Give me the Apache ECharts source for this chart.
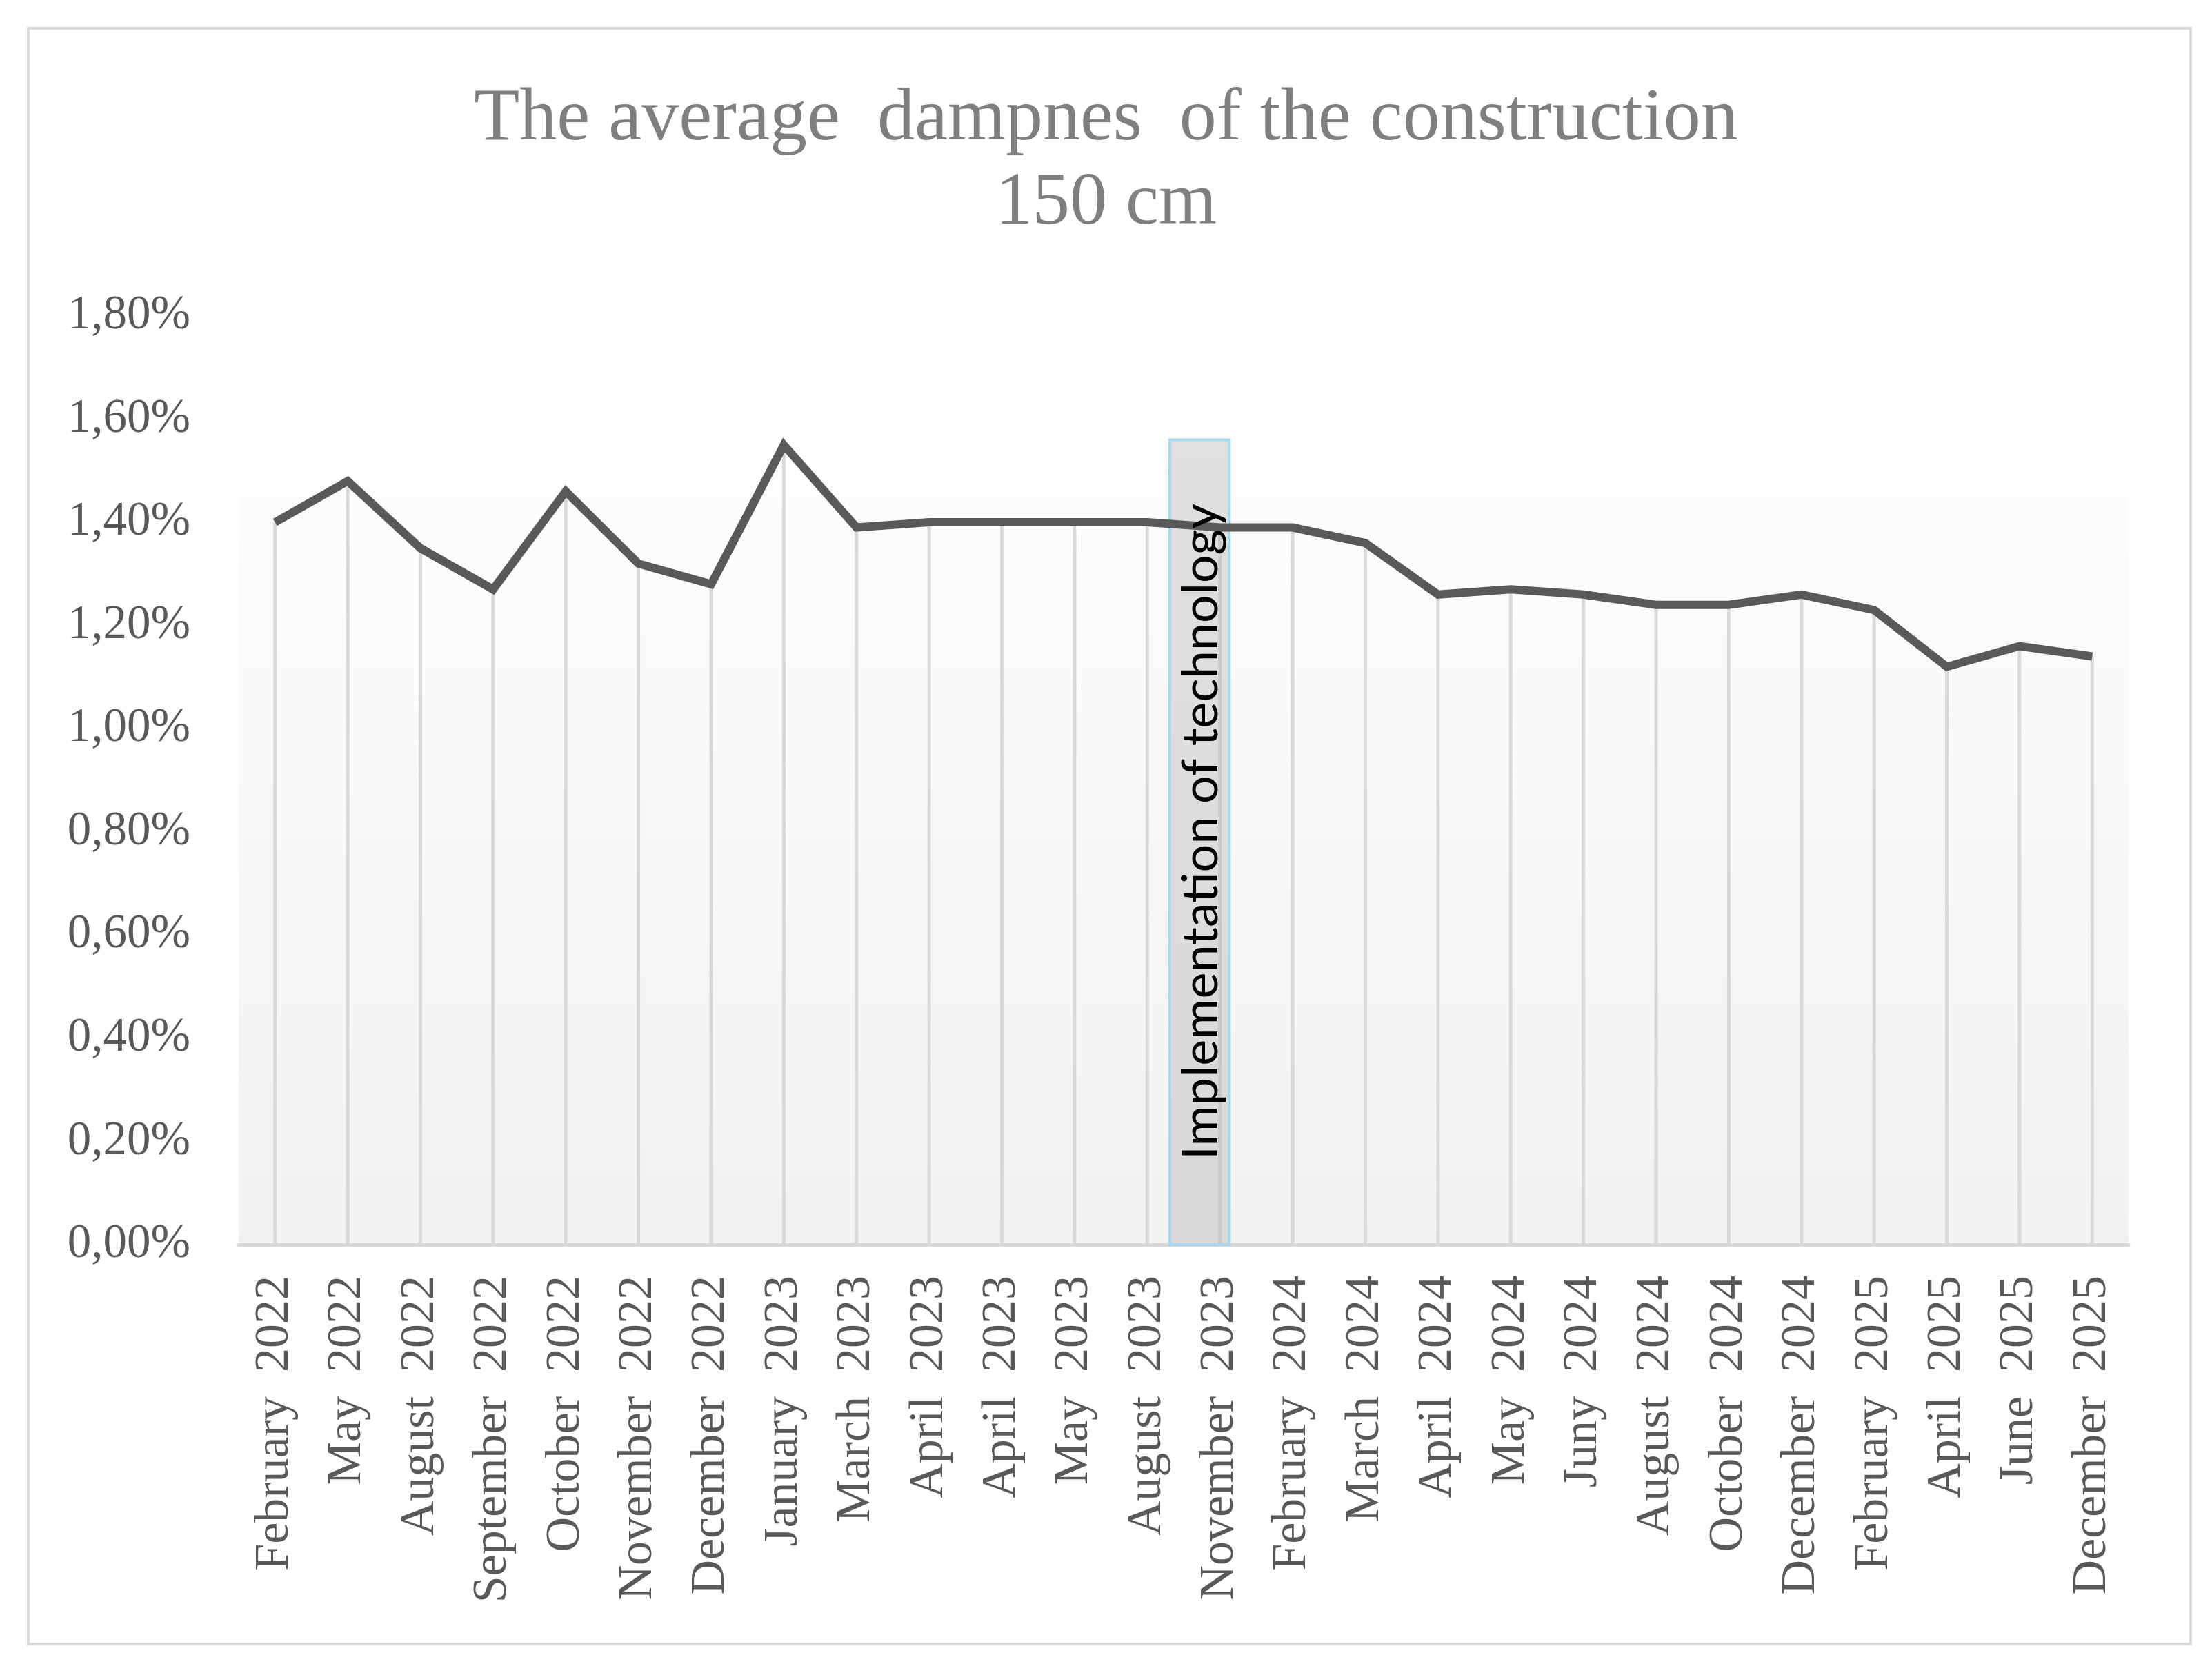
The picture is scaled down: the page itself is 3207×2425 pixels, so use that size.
<!DOCTYPE html>
<html>
<head>
<meta charset="utf-8">
<script src="https://cdn.jsdelivr.net/npm/echarts@6/dist/echarts.min.js"></script>
<style>
html,body{margin:0;padding:0;background:#fff;}
#chart{width:3207px;height:2425px;}
</style>
</head>
<body>
<div id="chart"></div>
<script>
// ---- data ----
const categories = [
  'February  2022','May  2022','August  2022','September  2022','October  2022','November  2022',
  'December  2022','January  2023','March  2023','April  2023','April  2023','May  2023',
  'August  2023','November  2023','February  2024','March  2024','April  2024','May  2024',
  'Juny  2024','August  2024','October  2024','December  2024','February  2025','April  2025',
  'June  2025','December  2025'
];
const dampness = [
  1.40, 1.48, 1.35, 1.27, 1.46, 1.32,
  1.28, 1.55, 1.39, 1.40, 1.40, 1.40,
  1.40, 1.39, 1.39, 1.36, 1.26, 1.27,
  1.26, 1.24, 1.24, 1.26, 1.23, 1.12,
  1.16, 1.14
];
const yTicks = {min: 0, max: 1.8, interval: 0.2};
const annotationText = 'Implementation of technology';
const titleText = 'The average  dampnes  of the construction\n150 cm';

// annotation period (between August 2023 and November 2023), in category index units
const techBox = [[12.31, 13.13, 1.56]];

const chart = echarts.init(document.getElementById('chart'), null, {renderer: 'canvas'});

const serif = 'Liberation Serif';

chart.setOption({
  backgroundColor: '#ffffff',
  animation: false,
  title: {
    text: titleText,
    left: 'center',
    top: 108,
    textStyle: {
      fontFamily: serif,
      fontSize: 108,
      lineHeight: 122,
      fontWeight: 'normal',
      color: '#7f7f7f'
    }
  },
  graphic: [{
    type: 'rect',
    shape: {x: 41, y: 41, width: 3135, height: 2342},
    style: {fill: 'none', stroke: '#d9d9d9', lineWidth: 4},
    silent: true,
    z: -10
  }],
  grid: {
    left: 346,
    right: 121,
    top: 458,
    bottom: 621,
    show: true,
    borderWidth: 0,
    backgroundColor: new echarts.graphic.LinearGradient(0, 0, 0, 1, [
      {offset: 0, color: '#ffffff'},
      {offset: 1, color: '#f2f2f2'}
    ])
  },
  xAxis: [{
    type: 'category',
    data: categories,
    boundaryGap: true,
    axisLine: {show: true, lineStyle: {color: '#d9d9d9', width: 5}},
    axisTick: {show: false},
    splitLine: {show: false},
    axisLabel: {
      interval: 0,
      rotate: 90,
      margin: 45,
      fontFamily: serif,
      fontSize: 70,
      color: '#595959'
    }
  }, {
    type: 'value',
    min: -0.5,
    max: 25.5,
    show: false
  }],
  yAxis: {
    type: 'value',
    min: yTicks.min,
    max: yTicks.max,
    interval: yTicks.interval,
    axisLine: {show: false},
    axisTick: {show: false},
    splitLine: {show: false},
    axisLabel: {
      margin: 70,
      fontFamily: serif,
      fontSize: 69,
      color: '#595959',
      formatter: v => v.toFixed(2).replace('.', ',') + '%'
    }
  },
  series: [
    {
      type: 'bar',
      data: dampness,
      barWidth: 5,
      itemStyle: {color: '#d9d9d9'},
      silent: true,
      z: 2
    },
    {
      type: 'custom',
      xAxisIndex: 1,
      yAxisIndex: 0,
      data: techBox,
      z: 3,
      silent: true,
      renderItem: (params, api) => {
        const p0 = api.coord([api.value(0), 0]);
        const p1 = api.coord([api.value(1), api.value(2)]);
        return {
          type: 'rect',
          shape: {x: p0[0], y: p1[1], width: p1[0] - p0[0], height: p0[1] - p1[1]},
          style: {fill: 'rgba(175,175,175,0.38)', stroke: '#a9d7ec', lineWidth: 4}
        };
      }
    },
    {
      type: 'line',
      data: dampness,
      showSymbol: false,
      symbol: 'none',
      lineStyle: {color: '#595959', width: 12, join: 'miter', cap: 'butt'},
      z: 4
    },
    {
      type: 'custom',
      xAxisIndex: 1,
      yAxisIndex: 0,
      data: techBox,
      z: 5,
      silent: true,
      renderItem: (params, api) => {
        const p0 = api.coord([api.value(0), 0]);
        const p1 = api.coord([api.value(1), api.value(2)]);
        return {
          type: 'text',
          x: (p0[0] + p1[0]) / 2 + 3,
          y: p0[1] - 123,
          rotation: Math.PI / 2,
          style: {
            text: annotationText,
            fontFamily: 'Lato',
            fontSize: 72,
            fill: '#000000',
            align: 'left',
            verticalAlign: 'middle'
          }
        };
      }
    }
  ]
});
</script>
</body>
</html>
